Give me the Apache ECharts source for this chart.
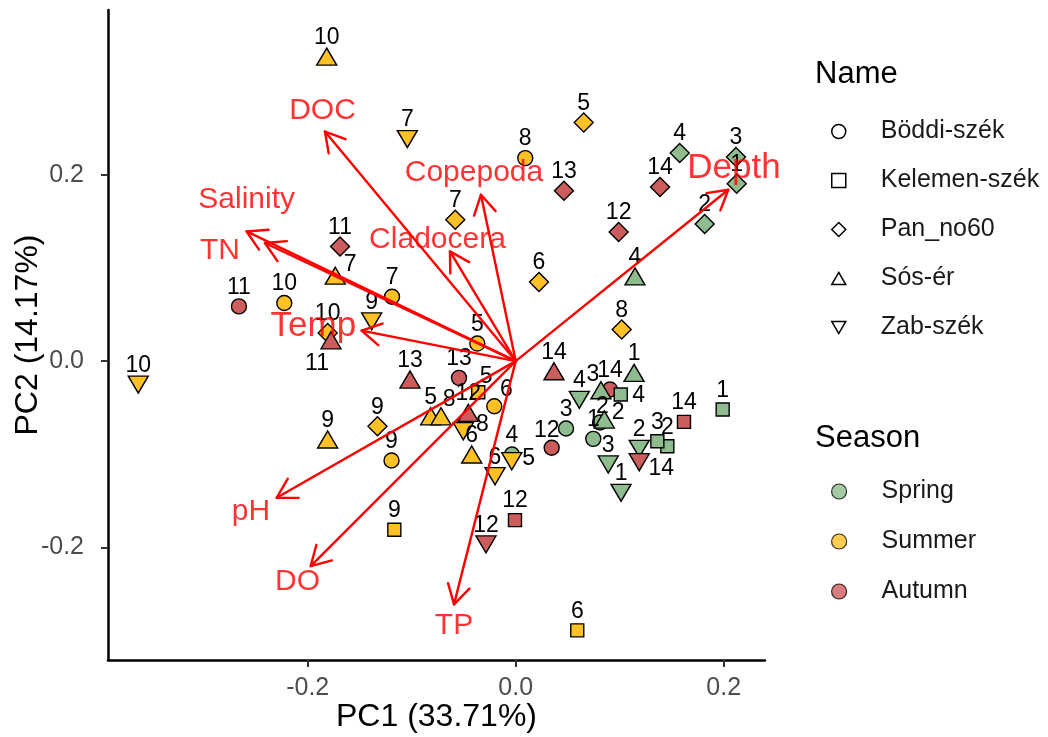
<!DOCTYPE html>
<html>
<head>
<meta charset="utf-8">
<script src="https://cdn.jsdelivr.net/npm/echarts@6/dist/echarts.min.js"></script>
<style>
  html, body { margin: 0; padding: 0; background: #fff; }
  #chart { width: 1048px; height: 737px; }
</style>
</head>
<body>
<div id="chart"></div>
<script>
// Sample scores on PC1 / PC2: [PC1, PC2, sample no., season]
const boddiSzek = [
  [0.0746, -0.0834, 1, 'Spring'], [0.0811, -0.0659, 2, 'Spring'], [0.0484, -0.0723, 3, 'Spring'],
  [-0.0036, -0.1002, 4, 'Spring'], [-0.0369, 0.0188, 5, 'Summer'], [-0.0206, -0.0484, 6, 'Summer'],
  [-0.1189, 0.0691, 7, 'Summer'], [0.0092, 0.2178, 8, 'Summer'], [-0.1194, -0.1066, 9, 'Summer'],
  [-0.2225, 0.0624, 10, 'Summer'], [-0.2661, 0.0587, 11, 'Autumn'], [0.0346, -0.0930, 12, 'Autumn'],
  [-0.0545, -0.0180, 13, 'Autumn'], [0.0907, -0.0305, 14, 'Autumn']
];
const kelemenSzek = [
  [0.1990, -0.0520, 1, 'Spring'], [0.1458, -0.0913, 2, 'Spring'], [0.1362, -0.0860, 3, 'Spring'],
  [0.1010, -0.0359, 4, 'Spring'], [-0.0360, -0.0334, 5, 'Summer'], [0.0592, -0.2889, 6, 'Summer'],
  [-0.1167, -0.1809, 9, 'Summer'], [-0.0007, -0.1706, 12, 'Autumn'], [0.1618, -0.0652, 14, 'Autumn']
];
const panNo60 = [
  [0.2125, 0.1902, 1, 'Spring'], [0.1817, 0.1471, 2, 'Spring'], [0.2118, 0.2189, 3, 'Spring'],
  [0.1577, 0.2232, 4, 'Spring'], [0.0654, 0.2559, 5, 'Summer'], [0.0224, 0.0849, 6, 'Summer'],
  [-0.0581, 0.1517, 7, 'Summer'], [0.1019, 0.0338, 8, 'Summer'], [-0.1329, -0.0699, 9, 'Summer'],
  [-0.1808, 0.0302, 10, 'Summer'], [-0.1689, 0.1230, 11, 'Autumn'], [0.0990, 0.1385, 12, 'Autumn'],
  [0.0464, 0.1827, 13, 'Autumn'], [0.1388, 0.1867, 14, 'Autumn']
];
const sosEr = [
  [0.1138, -0.0126, 1, 'Spring'], [0.0852, -0.0627, 2, 'Spring'], [0.0820, -0.0313, 3, 'Spring'],
  [0.1147, 0.0909, 4, 'Spring'], [-0.0817, -0.0592, 5, 'Summer'], [-0.0423, -0.1002, 6, 'Summer'],
  [-0.1735, 0.0916, 7, 'Summer'], [-0.0718, -0.0592, 8, 'Summer'], [-0.1808, -0.0841, 9, 'Summer'],
  [-0.1817, 0.3267, 10, 'Summer'], [-0.1776, 0.0223, 11, 'Autumn'], [-0.0456, -0.0555, 12, 'Autumn'],
  [-0.1016, -0.0198, 13, 'Autumn'], [0.0368, -0.0109, 14, 'Autumn']
];
const zabSzek = [
  [0.1013, -0.1413, 1, 'Spring'], [0.1188, -0.0941, 2, 'Spring'], [0.0890, -0.1109, 3, 'Spring'],
  [0.0612, -0.0416, 4, 'Spring'], [-0.0038, -0.1074, 5, 'Summer'], [-0.0199, -0.1235, 6, 'Summer'],
  [-0.1042, 0.2382, 7, 'Summer'], [-0.0504, -0.0752, 8, 'Summer'], [-0.1385, 0.0427, 9, 'Summer'],
  [-0.3629, -0.0252, 10, 'Summer'], [-0.0286, -0.1967, 12, 'Autumn'], [0.1188, -0.1085, 14, 'Autumn']
];

// Variable loadings (arrow tips) and where their names sit
const varNames = ['DOC', 'Copepoda', 'Cladocera', 'TN', 'Salinity', 'Temp', 'Depth', 'pH', 'DO', 'TP'];
const loadPC1 = [-0.1834, -0.0334, -0.0632, -0.2587, -0.2411, -0.1481, 0.2044, -0.2298, -0.1971, -0.0593];
const loadPC2 = [0.2463, 0.1785, 0.1177, 0.1391, 0.1267, 0.0327, 0.1838, -0.1466, -0.2199, -0.2610];
const varLabelPC1 = [-0.1858, -0.0401, -0.0752, -0.2843, -0.2587, -0.1946, 0.2099, -0.2545, -0.2098, -0.0593];
const varLabelPC2 = [0.2687, 0.2020, 0.1302, 0.1187, 0.1731, 0.0373, 0.2063, -0.1613, -0.2363, -0.2835];

const siteNames = ['Böddi-szék', 'Kelemen-szék', 'Pan_no60', 'Sós-ér', 'Zab-szék'];
const seasonNames = ['Spring', 'Summer', 'Autumn'];
const xTicks = [-0.2, 0, 0.2];
const yTicks = [-0.2, 0, 0.2];

// ---- styling ----
const FONT = '"Liberation Sans", Arial, sans-serif';
const seasonColor = { Spring: '#8FBC8F', Summer: '#FFC125', Autumn: '#CD5C5C' };
const SQUARE = 'path://M0,0 L10,0 L10,10 L0,10 Z';
const DIAMOND = 'path://M5,0 L10,5 L5,10 L0,5 Z';
const TRI_UP = 'path://M10,0 L20,17.32 L0,17.32 Z';
const TRI_DOWN = 'path://M0,0 L20,0 L10,17.32 Z';
const siteSymbol = {
  'Böddi-szék':   { symbol: 'circle', size: 15, icon: 'circle' },
  'Kelemen-szék': { symbol: 'rect', size: 13, icon: SQUARE },
  'Pan_no60':     { symbol: 'diamond', size: 19, icon: DIAMOND },
  'Sós-ér':       { symbol: 'triangle', size: [20, 17], icon: TRI_UP },
  'Zab-szék':     { symbol: TRI_DOWN, size: [20, 17], icon: TRI_DOWN }
};
const siteRows = [boddiSzek, kelemenSzek, panNo60, sosEr, zabSzek];

// sample-number labels sit above their marker unless nudged aside
const labelNudge = {
  'Böddi-szék 2': [18, -10], 'Böddi-szék 6': [12, -17], 'Böddi-szék 12': [-5, -17],
  'Kelemen-szék 4': [18, 1], 'Kelemen-szék 5': [8, -16],
  'Sós-ér 2': [-2, -13], 'Sós-ér 3': [-8, -16], 'Sós-ér 7': [15, -11], 'Sós-ér 8': [8, -17], 'Sós-ér 11': [-14, 23],
  'Zab-szék 5': [17, -3], 'Zab-szék 8': [19, -7], 'Zab-szék 14': [22, 6]
};

const siteSeries = siteNames.map((site, s) => ({
  name: site,
  type: 'scatter',
  symbol: siteSymbol[site].symbol,
  symbolSize: siteSymbol[site].size,
  z: 2,
  itemStyle: { color: '#fff', borderColor: '#000', borderWidth: 1.4, opacity: 1 },
  label: {
    show: true, position: 'inside', formatter: '{b}',
    color: '#000', fontFamily: FONT, fontSize: 23
  },
  emphasis: { disabled: true },
  data: siteRows[s].map(r => ({
    name: String(r[2]),
    value: [r[0], r[1]],
    itemStyle: { color: seasonColor[r[3]] },
    label: { offset: labelNudge[site + ' ' + r[2]] || [0, -19] }
  }))
}));

// empty series that only feed the Season legend
const seasonSeries = seasonNames.map(sn => ({
  name: sn, type: 'scatter', symbol: 'circle', data: [],
  itemStyle: { color: seasonColor[sn], borderColor: '#000', borderWidth: 1.2 }
}));

const arrowSeries = {
  type: 'custom',
  z: 5,
  silent: true,
  data: loadPC1.map((x, i) => [x, loadPC2[i]]),
  renderItem: (params, api) => {
    const o = api.coord([0, 0]);
    const t = api.coord([api.value(0), api.value(1)]);
    const ang = Math.atan2(t[1] - o[1], t[0] - o[0]);
    const L = 22, a = Math.PI / 6;
    const p1 = [t[0] - L * Math.cos(ang - a), t[1] - L * Math.sin(ang - a)];
    const p2 = [t[0] - L * Math.cos(ang + a), t[1] - L * Math.sin(ang + a)];
    const st = { stroke: '#FF0000', lineWidth: 2.4, fill: null, lineCap: 'round', lineJoin: 'round' };
    return {
      type: 'group',
      children: [
        { type: 'line', shape: { x1: o[0], y1: o[1], x2: t[0], y2: t[1] }, style: st },
        { type: 'polyline', shape: { points: [p1, t, p2] }, style: st }
      ]
    };
  }
};

const bigVarLabels = ['Temp', 'Depth'];
const varLabelSeries = {
  type: 'scatter',
  z: 6,
  silent: true,
  symbolSize: 0,
  label: { show: true, position: 'inside', formatter: '{b}', color: '#FF0000', fontFamily: FONT, fontSize: 30 },
  data: varNames.map((n, i) => ({
    name: n,
    value: [varLabelPC1[i], varLabelPC2[i]],
    label: bigVarLabels.includes(n) ? { fontSize: 35 } : {}
  }))
};

const tickFmt = v => (Math.abs(v) < 1e-9 ? 0 : v).toFixed(1);

const legendText = { fontSize: 25, lineHeight: 25, color: '#1A1A1A', fontFamily: FONT, padding: [0, 0, 0, 30] };

const chart = echarts.init(document.getElementById('chart'), null, { renderer: 'canvas' });
chart.setOption({
  animation: false,
  backgroundColor: '#fff',
  textStyle: { fontFamily: FONT },
  grid: { left: 108, right: 283, top: 10, bottom: 77, containLabel: false, outerBoundsMode: 'none' },
  xAxis: {
    type: 'value', min: -0.392, max: 0.2397,
    name: 'PC1 (33.71%)', nameLocation: 'middle', nameGap: 41, nameMoveOverlap: false,
    nameTextStyle: { fontSize: 32, color: '#000', fontFamily: FONT },
    axisLine: { show: true, onZero: false, lineStyle: { color: '#000', width: 2.5 } },
    axisTick: { show: true, customValues: xTicks, length: 7, lineStyle: { color: '#333', width: 2 } },
    axisLabel: { customValues: xTicks, formatter: tickFmt, fontSize: 25, color: '#4D4D4D', margin: 16, fontFamily: FONT },
    splitLine: { show: false }
  },
  yAxis: {
    type: 'value', min: -0.3207, max: 0.3767,
    name: 'PC2 (14.17%)', nameLocation: 'middle', nameGap: 64, nameMoveOverlap: false,
    nameTextStyle: { fontSize: 32, color: '#000', fontFamily: FONT },
    axisLine: { show: true, onZero: false, lineStyle: { color: '#000', width: 2.5 } },
    axisTick: { show: true, customValues: yTicks, length: 7, lineStyle: { color: '#333', width: 2 } },
    axisLabel: { customValues: yTicks, formatter: tickFmt, fontSize: 25, color: '#4D4D4D', margin: 24, fontFamily: FONT },
    splitLine: { show: false }
  },
  title: [
    { text: 'Name', left: 815, top: 59, padding: 0, textStyle: { fontSize: 31, fontWeight: 'normal', color: '#000', fontFamily: FONT } },
    { text: 'Season', left: 815, top: 423, padding: 0, textStyle: { fontSize: 31, fontWeight: 'normal', color: '#000', fontFamily: FONT } }
  ],
  legend: [
    {
      orient: 'vertical', left: 831, top: 119, padding: 0,
      itemWidth: 14, itemHeight: 14, itemGap: 24, selectedMode: false,
      textStyle: legendText,
      data: siteNames.map(n => ({
        name: n,
        icon: siteSymbol[n].icon,
        itemStyle: { color: '#fff', borderColor: '#000', borderWidth: 1.5 }
      }))
    },
    {
      orient: 'vertical', left: 831, top: 479, padding: 0,
      itemWidth: 15, itemHeight: 15, itemGap: 25, selectedMode: false,
      textStyle: legendText,
      data: seasonNames.map(n => ({
        name: n, icon: 'circle',
        itemStyle: { color: seasonColor[n], borderColor: '#000', borderWidth: 1.2 }
      }))
    }
  ],
  series: [...siteSeries, ...seasonSeries, arrowSeries, varLabelSeries]
});
</script>
</body>
</html>
